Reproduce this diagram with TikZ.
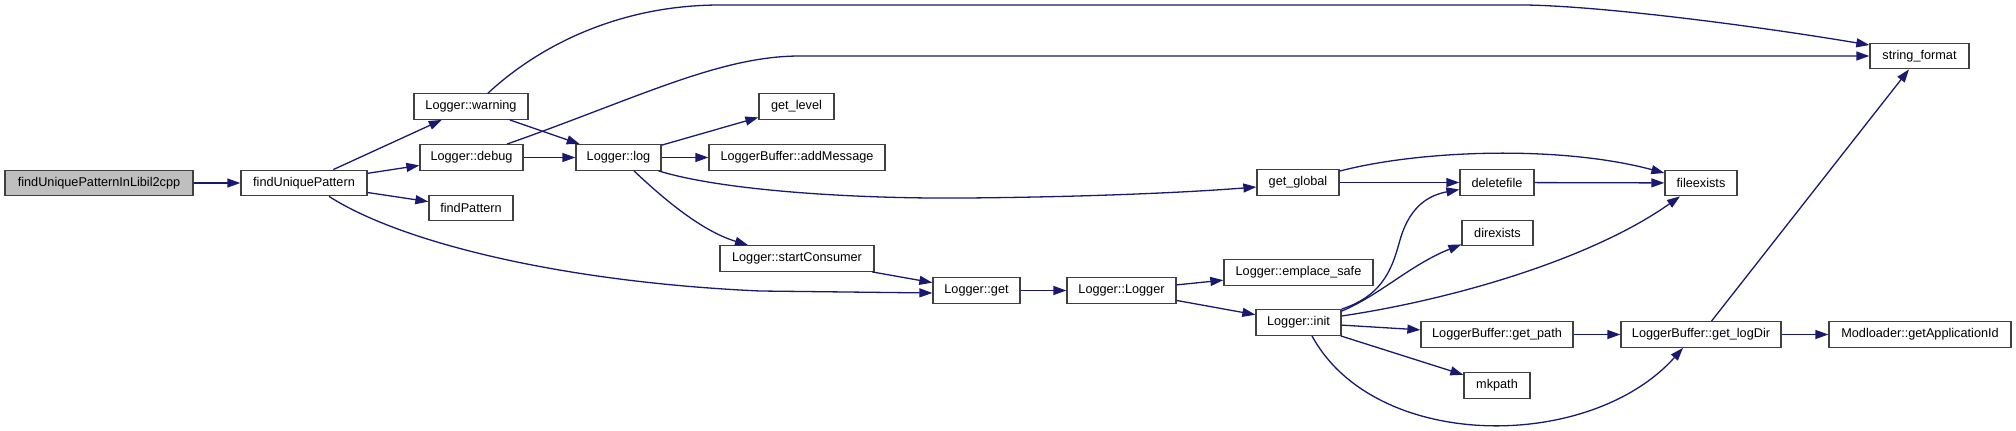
\documentclass[tikz,border=0pt]{standalone}
\usepackage{fontspec}
\setmainfont{Liberation Sans}
\usetikzlibrary{arrows.meta,calc}
\definecolor{edgeblue}{HTML}{191970}
\definecolor{rootgray}{HTML}{BFBFBF}
\definecolor{boxline}{HTML}{404040}
\tikzset{
  box/.style={draw=boxline, line width=1.3pt, fill=white, inner sep=0pt,
    minimum height=25.5pt, font=\fontsize{12.7}{14}\selectfont},
  rootbox/.style={box, fill=rootgray},
  edge/.style={draw=edgeblue, line width=1.3pt,
    -{Triangle[length=13pt,width=9pt]}}
}
\newcommand\gnode[6][box]{\node[#1, minimum width=#5pt] (#2) at (#3,#4) {#6};}
\begin{document}
\begin{tikzpicture}[x=1pt,y=-1pt]
\useasboundingbox (0,0) rectangle (2016,431);
% nodes
\gnode[rootbox]{root}{99}{183}{188}{findUniquePatternInLibil2cpp}
\gnode{fup}{304}{183}{126}{findUniquePattern}
\gnode{warn}{471}{106.5}{114}{Logger::warning}
\gnode{debug}{471.5}{157.5}{103}{Logger::debug}
\gnode{fpat}{471}{208}{84}{findPattern}
\gnode{log}{618.5}{157.5}{85}{Logger::log}
\gnode{getlevel}{796.5}{106.5}{75}{get\_level}
\gnode{addmsg}{797}{157.5}{176}{LoggerBuffer::addMessage}
\gnode{startc}{797}{258.5}{154}{Logger::startConsumer}
\gnode{get}{976.5}{290.5}{87}{Logger::get}
\gnode{LL}{1121.5}{290.5}{109}{Logger::Logger}
\gnode{getglobal}{1298}{182.5}{82}{get\_global}
\gnode{emplace}{1298.5}{272.5}{149}{Logger::emplace\_safe}
\gnode{init}{1298.5}{322.5}{85}{Logger::init}
\gnode{deletefile}{1497}{182.5}{74}{deletefile}
\gnode{direxists}{1497.5}{233}{71}{direxists}
\gnode{getpath}{1497}{334.5}{152}{LoggerBuffer::get\_path}
\gnode{mkpath}{1497}{385.5}{66}{mkpath}
\gnode{fileexists}{1701}{183}{72}{fileexists}
\gnode{getlogdir}{1701}{334.5}{160}{LoggerBuffer::get\_logDir}
\gnode{modloader}{1920}{334.5}{182}{Modloader::getApplicationId}
\gnode{strfmt}{1919.5}{56}{99}{string\_format}
% edges
\draw[edge] (root) -- (fup);
\draw[edge] (fup) -- (warn);
\draw[edge] (fup) -- (debug);
\draw[edge] (fup) -- (fpat);
\draw[edge] ($(fup.south)+(25,0)$) .. controls (400,242) and (560,282) .. (760,291) -- ($(get.west)+(0,2.5)$);
\draw[edge] ($(warn.north)+(17,0)$) .. controls (540,45) and (620,5) .. (720,5) -- (1525,5) .. controls (1600,6) and (1750,25) .. ($(strfmt.west)+(0,-11)$);
\draw[edge] (warn) -- (log);
\draw[edge] ($(debug.north)+(35.5,0)$) .. controls (640,97) and (720,56) .. (800,56) -- (strfmt.west);
\draw[edge] (debug) -- (log);
\draw[edge] (log) -- (getlevel);
\draw[edge] (log) -- (addmsg);
\draw[edge] ($(log.south east)+(-3,0)$) .. controls (720,190) and (850,199) .. (966,198) .. controls (1080,197) and (1180,193) .. ($(getglobal.west)+(0,4.5)$);
\draw[edge] ($(log.south)+(15.5,0)$) .. controls (670,205) and (705,232) .. ($(startc.north)+(-49,0)$);
\draw[edge] (startc) -- (get);
\draw[edge] (get) -- (LL);
\draw[edge] (LL) -- (emplace);
\draw[edge] (LL) -- (init);
\draw[edge] ($(getglobal.north east)+(0,2)$) .. controls (1420,150) and (1560,145) .. ($(fileexists.west)+(0,-10)$);
\draw[edge] (getglobal) -- (deletefile);
\draw[edge] (deletefile) -- (fileexists);
\draw[edge] (init.north east) .. controls (1385,295) and (1393,265) .. (1400,240) .. controls (1410,205) and (1430,195) .. ($(deletefile.west)+(0,7)$);
\draw[edge] ($(init.north east)+(0,2)$) .. controls (1380,295) and (1410,265) .. ($(direxists.south west)+(0,-2)$);
\draw[edge] ($(init.east)+(0,-6.5)$) .. controls (1450,300) and (1590,260) .. ($(fileexists.south)+(-21,0)$);
\draw[edge] (init) -- (getpath);
\draw[edge] (init) -- (mkpath);
\draw[edge] ($(init.south)+(13.5,0)$) .. controls (1375,452) and (1590,452) .. ($(getlogdir.south)+(-18,0)$);
\draw[edge] (getpath) -- (getlogdir);
\draw[edge] (getlogdir) -- (strfmt);
\draw[edge] (getlogdir) -- (modloader);
\end{tikzpicture}
\end{document}
